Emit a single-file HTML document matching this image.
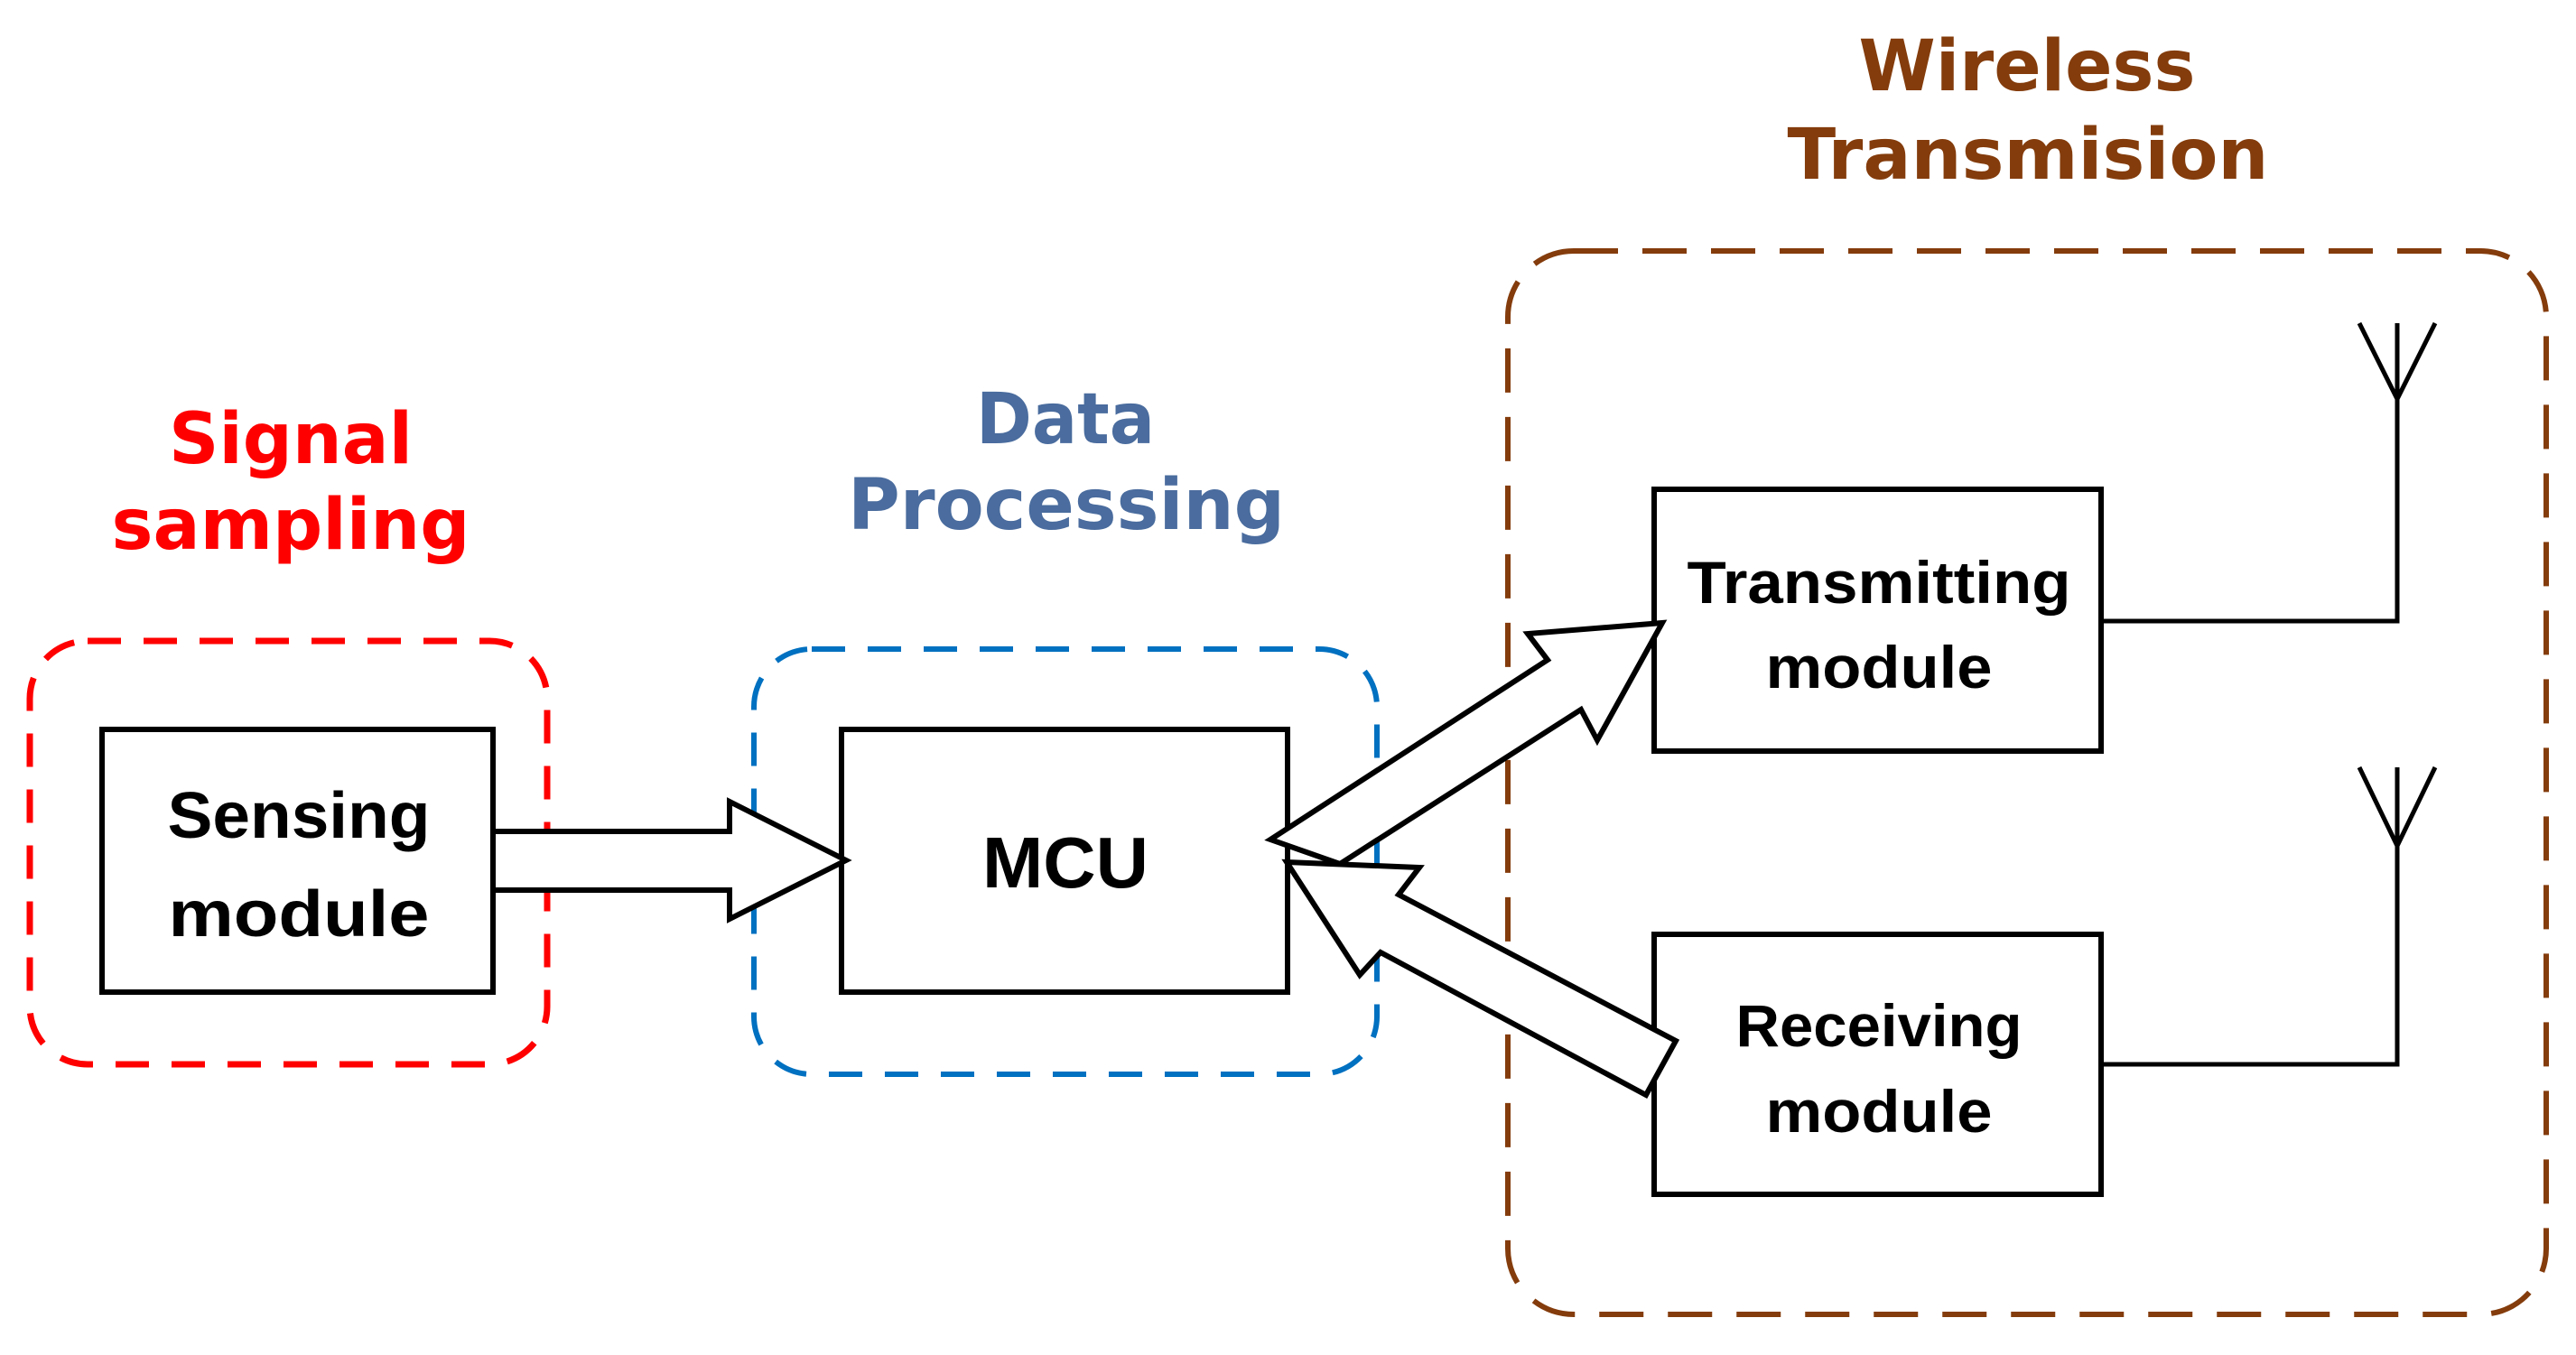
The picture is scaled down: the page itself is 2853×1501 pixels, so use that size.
<!DOCTYPE html>
<html><head><meta charset="utf-8"><style>html,body{margin:0;padding:0;background:#fff}svg{display:block}</style></head>
<body>
<svg width="2853" height="1501" viewBox="0 0 2853 1501" xmlns="http://www.w3.org/2000/svg">
<g font-family="'DejaVu Sans', 'Liberation Sans', sans-serif" font-weight="bold" text-anchor="middle" font-size="78">
<text x="322" y="513" fill="#ff0000" textLength="270" lengthAdjust="spacingAndGlyphs">Signal</text>
<text x="322" y="608" fill="#ff0000" textLength="397" lengthAdjust="spacingAndGlyphs">sampling</text>
<text x="1180" y="491" fill="#4a6c9e" textLength="198" lengthAdjust="spacingAndGlyphs">Data</text>
<text x="1181" y="586" fill="#4a6c9e" textLength="484" lengthAdjust="spacingAndGlyphs">Processing</text>
<text x="2245" y="100" fill="#843c0c" textLength="373" lengthAdjust="spacingAndGlyphs">Wireless</text>
<text x="2246" y="198" fill="#843c0c" textLength="533" lengthAdjust="spacingAndGlyphs">Transmision</text>
</g>
<rect x="33" y="710" width="573" height="469" rx="64" fill="none" stroke="#ff0000" stroke-width="7" stroke-dasharray="37 25"/>
<rect x="835" y="719" width="690" height="471" rx="64" fill="none" stroke="#0070c0" stroke-width="6" stroke-dasharray="37 25"/>
<rect x="1670" y="278" width="1150" height="1178" rx="73" fill="none" stroke="#843c0c" stroke-width="6" stroke-dasharray="49 27"/>
<g fill="#fff" stroke="#000" stroke-width="6">
<rect x="113" y="808" width="433" height="291"/>
<rect x="932" y="808" width="494" height="291"/>
<rect x="1832" y="542" width="495" height="290"/>
<rect x="1832" y="1035" width="495" height="288"/>
<polygon points="546,921 808,921 808,888 937,953 808,1018 808,986 546,986"/>
<polygon points="1407,930 1714,731 1692,702 1841,690 1769,820 1751,786 1484,957"/>
<polygon points="1425,955 1572,961 1549,991 1856,1153 1823,1213 1529,1055 1506,1080"/>
</g>
<g fill="none" stroke="#000" stroke-width="5">
<polyline points="2327,688 2655,688 2655,442"/>
<polyline points="2613,358 2655,442 2697,358"/>
<line x1="2655" y1="358" x2="2655" y2="442"/>
<polyline points="2327,1179 2655,1179 2655,937"/>
<polyline points="2613,850 2655,937 2697,850"/>
<line x1="2655" y1="850" x2="2655" y2="937"/>
</g>
<g font-family="'Liberation Sans', sans-serif" font-weight="bold" text-anchor="middle" fill="#000" font-size="72">
<text x="331" y="928" textLength="291" lengthAdjust="spacingAndGlyphs">Sensing</text>
<text x="331" y="1037" textLength="289" lengthAdjust="spacingAndGlyphs">module</text>
<text x="1180" y="983" font-size="80" textLength="184" lengthAdjust="spacingAndGlyphs">MCU</text>
<text x="2081" y="668" font-size="66" textLength="425" lengthAdjust="spacingAndGlyphs">Transmitting</text>
<text x="2081" y="762" font-size="66" textLength="251" lengthAdjust="spacingAndGlyphs">module</text>
<text x="2081" y="1159" font-size="66" textLength="317" lengthAdjust="spacingAndGlyphs">Receiving</text>
<text x="2081" y="1254" font-size="66" textLength="251" lengthAdjust="spacingAndGlyphs">module</text>
</g>
</svg>
</body></html>
